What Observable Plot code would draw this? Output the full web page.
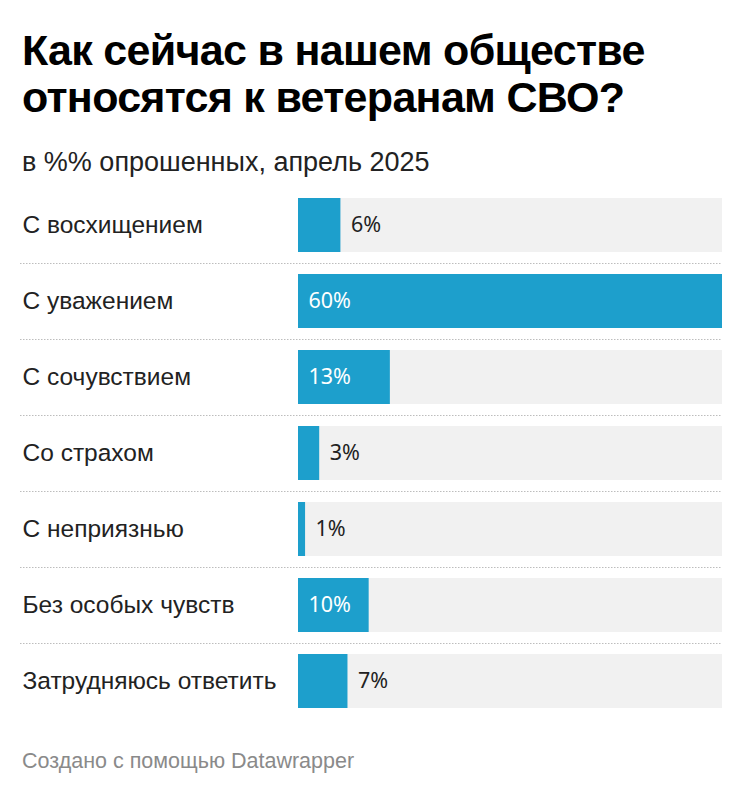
<!DOCTYPE html>
<html>
<head>
<meta charset="utf-8">
<script src="https://cdn.jsdelivr.net/npm/d3@7"></script>
<script src="https://cdn.jsdelivr.net/npm/@observablehq/plot@0.6"></script>
<style>
  html, body { margin: 0; padding: 0; background: #fff; }
  body { width: 744px; height: 794px; overflow: hidden; font-family: "Liberation Sans", Arial, sans-serif; }
  h1 { margin: 27px 0 0 22px; font-size: 43px; line-height: 47px; font-weight: 700; color: #000; letter-spacing: -0.7px; }
  .sub { margin: 26px 0 0 22px; font-size: 27px; line-height: 30px; color: #222; }
  #chart { margin-top: 3px; }
  .foot { margin: 25px 0 0 22px; font-size: 21.5px; line-height: 24px; color: #8a8a8a; }
</style>
</head>
<body>
<h1>Как сейчас в нашем обществе<br>относятся к ветеранам СВО?</h1>
<div class="sub">в %% опрошенных, апрель 2025</div>
<div id="chart"></div>
<div class="foot">Создано с помощью Datawrapper</div>
<script>
const categories = ["С восхищением", "С уважением", "С сочувствием", "Со страхом", "С неприязнью", "Без особых чувств", "Затрудняюсь ответить"];
const values = [6, 60, 13, 3, 1, 10, 7];

const data = categories.map((c, i) => ({category: c, value: values[i]}));
const maxValue = d3.max(values);
const inside = d => d.value >= 10;

const chart = Plot.plot({
  width: 744,
  height: 544,
  marginTop: 7,
  marginBottom: 5,
  marginLeft: 20,
  marginRight: 22,
  x: {domain: [0, maxValue], range: [298, 722], axis: null},
  y: {domain: categories, paddingInner: 0.29, paddingOuter: 0.145, axis: null},
  marks: [
    Plot.ruleY(categories.slice(0, -1), {y: d => d, dy: 38, stroke: "#bdbdbd", strokeWidth: 1, strokeDasharray: "1.5,1.5"}),
    Plot.barX(data, {y: "category", x: () => maxValue, fill: "#f1f1f1"}),
    Plot.barX(data, {y: "category", x: "value", fill: "#1d9fcc"}),
    Plot.text(data, {y: "category", text: "category", frameAnchor: "left", textAnchor: "start", dx: 2, fontSize: 24.5, fill: "#222", fontFamily: "Liberation Sans, Arial, sans-serif"}),
    Plot.text(data.filter(inside), {y: "category", x: () => 0, text: d => d.value + "%", textAnchor: "start", dx: 10, fontSize: 21.5, fill: "#fff", fontFamily: "Noto Sans, sans-serif"}),
    Plot.text(data.filter(d => !inside(d)), {y: "category", x: "value", text: d => d.value + "%", textAnchor: "start", dx: 10, fontSize: 21.5, fill: "#222", fontFamily: "Noto Sans, sans-serif"})
  ]
});
document.getElementById("chart").appendChild(chart);
</script>
</body>
</html>
